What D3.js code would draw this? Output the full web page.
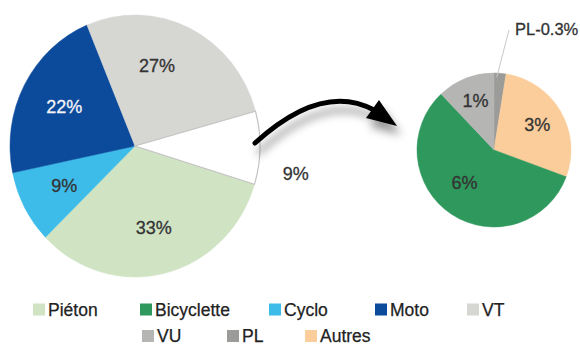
<!DOCTYPE html>
<html>
<head>
<meta charset="utf-8">
<script src="https://cdn.jsdelivr.net/npm/d3@7"></script>
<style>
  body { margin: 0; background: #fff; }
  svg { display: block; font-family: "Liberation Sans", Arial, sans-serif; }
</style>
</head>
<body>
<svg id="chart" width="580" height="345"></svg>
<script>
// main pie (usagers)
var mainNames  = ['Piéton', 'Cyclo', 'Moto', 'VT', 'Autres usagers'];
var mainValues = [33, 9, 22, 27, 9];
var mainLabels = ['33%', '9%', '22%', '27%', '9%'];
var mainColors = ['#d0e4c4', '#3dbce9', '#0c4a9b', '#d6d6d3', '#ffffff'];

// detail pie of the 9%
var subNames  = ['PL', 'Autres', 'Bicyclette', 'VU'];
var subValues = [0.25, 2.8, 5.7, 1.2];
var subLabels = ['PL-0.3%', '3%', '6%', '1%'];
var subColors = ['#9b9b99', '#fbcd9b', '#2f995d', '#b5b5b3'];

// legend
var legendNames  = ['Piéton', 'Bicyclette', 'Cyclo', 'Moto', 'VT', 'VU', 'PL', 'Autres'];
var legendColors = ['#d0e4c4', '#2f995d', '#3dbce9', '#0c4a9b', '#d6d6d3', '#b5b5b3', '#9b9b99', '#fbcd9b'];
var legendRow    = [0, 0, 0, 0, 0, 1, 1, 1];
var legendX      = [33, 140, 269, 375, 467, 142, 227, 305];

var svg = d3.select('#chart');

var defs = svg.append('defs');
var f = defs.append('filter').attr('id', 'shadow')
  .attr('x', '-20%').attr('y', '-40%').attr('width', '160%').attr('height', '220%');
f.append('feDropShadow')
  .attr('dx', 4).attr('dy', 9)
  .attr('stdDeviation', 4.5)
  .attr('flood-color', '#000')
  .attr('flood-opacity', 0.4);

// ---- main pie
var r1 = 125;
var pie1 = d3.pie().sort(null).value(function (d) { return d; })
  .startAngle(107 * Math.PI / 180)
  .endAngle(107 * Math.PI / 180 + 2 * Math.PI);
var arc1 = d3.arc().innerRadius(0).outerRadius(r1);
var lab1 = d3.arc().innerRadius(80).outerRadius(80);

var g1 = svg.append('g').attr('transform', 'translate(135,146) scale(1,1.048)');
var arcs1 = pie1(mainValues);
g1.selectAll('path')
  .data(arcs1)
  .enter().append('path')
  .attr('d', arc1)
  .style('fill', function (d, i) { return mainColors[i]; })
  .style('stroke', function (d, i) { return i == 4 ? '#c4c4c4' : mainColors[i]; })
  .style('stroke-width', function (d, i) { return i == 4 ? 1.2 : 0.5; });

var t1 = svg.append('g').attr('transform', 'translate(135,146)');
t1.selectAll('text')
  .data(arcs1)
  .enter().append('text')
  .attr('transform', function (d, i) {
    var c = lab1.centroid(d);
    // outside label of the white slice, sits a bit below its middle
    if (i == 4) c = d3.arc().innerRadius(163).outerRadius(163).centroid({startAngle: d.startAngle + 0.3, endAngle: d.endAngle});
    if (i == 3) c = lab1.centroid({startAngle: d.startAngle, endAngle: d.endAngle - 0.35});
    return 'translate(' + c[0] + ',' + (c[1] * 1.048) + ')';
  })
  .attr('text-anchor', 'middle')
  .attr('dy', '0.36em')
  .style('font-size', '18px')
  .style('fill', function (d, i) { return i == 2 ? '#f4f4f8' : '#333'; })
  .style('stroke', function (d, i) { return i == 2 ? '#f4f4f8' : '#333'; })
  .style('stroke-width', 0.3)
  .text(function (d, i) { return mainLabels[i]; });

// ---- arrow
var ap = d3.path();
ap.moveTo(255, 143);
ap.quadraticCurveTo(322, 82, 374, 110);
var arrow = svg.append('g').attr('filter', 'url(#shadow)');
arrow.append('path')
  .attr('d', ap.toString())
  .style('fill', 'none')
  .style('stroke', '#000')
  .style('stroke-width', 5)
  .style('stroke-linecap', 'round');
arrow.append('path')
  .attr('d', 'M379,100L397,126L366,118Z')
  .style('fill', '#000');

// ---- detail pie
var r2 = 77;
var pie2 = d3.pie().sort(null).value(function (d) { return d; });
var arc2 = d3.arc().innerRadius(0).outerRadius(r2);
var lab2 = d3.arc().innerRadius(50).outerRadius(50);
var arcs2 = pie2(subValues);

var g2 = svg.append('g').attr('transform', 'translate(494,150)');
g2.selectAll('path')
  .data(arcs2)
  .enter().append('path')
  .attr('d', arc2)
  .style('fill', function (d, i) { return subColors[i]; })
  .style('stroke', function (d, i) { return subColors[i]; })
  .style('stroke-width', 0.5);

g2.selectAll('text.lbl')
  .data(arcs2.slice(1))
  .enter().append('text')
  .attr('class', 'lbl')
  .attr('transform', function (d) {
    var c = lab2.centroid(d);
    if (d.index == 2) c = d3.arc().innerRadius(44).outerRadius(44).centroid({startAngle: d.startAngle + 0.3, endAngle: d.endAngle});
    if (d.index == 3) c = [c[0], c[1] - 3];
    return 'translate(' + c + ')';
  })
  .attr('text-anchor', 'middle')
  .attr('dy', '0.36em')
  .style('font-size', '18px')
  .style('fill', '#333')
  .style('stroke', '#333')
  .style('stroke-width', 0.3)
  .text(function (d) { return subLabels[d.index]; });

// PL call-out
var pl = arcs2[0];
var plA = (pl.startAngle + pl.endAngle) / 2;
g2.append('line')
  .attr('x1', Math.sin(plA) * (r2 - 4) - 3)
  .attr('y1', -Math.cos(plA) * (r2 - 4))
  .attr('x2', 15)
  .attr('y2', -120)
  .style('stroke', '#c8c8c8')
  .style('stroke-width', 1);
g2.append('text')
  .attr('x', 21).attr('y', -115)
  .style('font-size', '16.5px')
  .style('fill', '#333')
  .style('stroke', '#333')
  .style('stroke-width', 0.3)
  .text(subLabels[0]);

// ---- legend
var lg = svg.append('g');
var item = lg.selectAll('g')
  .data(legendNames)
  .enter().append('g')
  .attr('transform', function (d, i) { return 'translate(' + legendX[i] + ',' + (legendRow[i] ? 336 : 309.5) + ')'; });
item.append('rect')
  .attr('x', 0).attr('y', -6)
  .attr('width', 12).attr('height', 12)
  .style('fill', function (d, i) { return legendColors[i]; });
item.append('text')
  .attr('x', 15).attr('dy', '0.36em')
  .style('font-size', '17.5px')
  .style('fill', '#222')
  .style('stroke', '#222')
  .style('stroke-width', 0.25)
  .text(function (d) { return d; });
</script>
</body>
</html>
